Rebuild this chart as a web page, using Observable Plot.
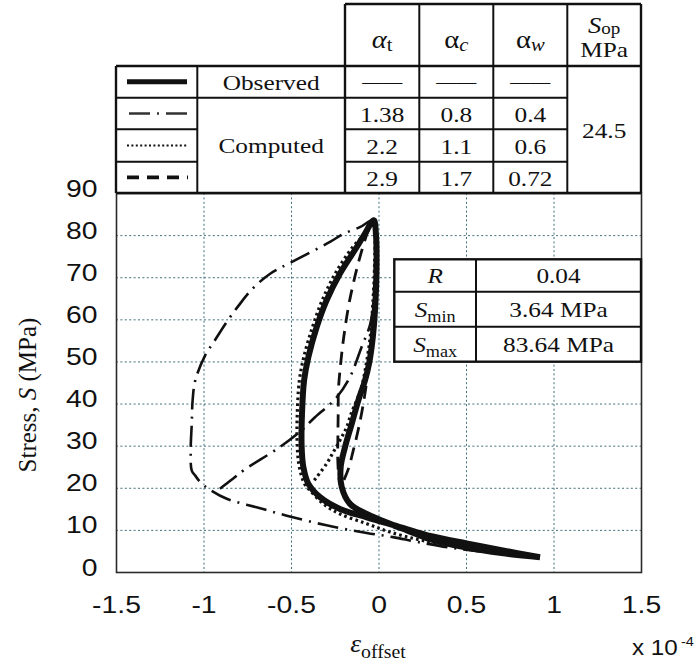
<!DOCTYPE html>
<html>
<head>
<meta charset="utf-8">
<script src="https://cdn.jsdelivr.net/npm/d3@7"></script>
<script src="https://cdn.jsdelivr.net/npm/@observablehq/plot@0.6"></script>
<style>
  body { margin: 0; background: #fff; }
  #chart svg { display: block; }
</style>
</head>
<body>
<div id="chart"></div>
<script>
// Hysteresis loops: offset strain (x 10^-4) against stress S (MPa).
// Each loop runs from its loading corner up to S_max, back down the
// unloading branch and out along the tail to S_min.

const observedStrain = [0.92, 0.7, 0.5, 0.3, 0.16, 0.06, -0.07, -0.166, -0.213, -0.219, -0.194, -0.156, -0.118, -0.08, -0.055, -0.035, -0.023, -0.014, -0.017, -0.03,
  -0.08, -0.127, -0.223, -0.3, -0.356, -0.404, -0.428, -0.44, -0.442, -0.432, -0.404, -0.337, -0.223, -0.07, 0.12, 0.3, 0.5, 0.7, 0.92];
const observedStress = [3.64, 4.6, 5.9, 7.8, 10.0, 11.6, 13.9, 16.3, 20.3, 25, 29.8, 35.3, 40.9, 45.6, 50, 56, 62.2, 72.5, 80, 83.64,
  80.5, 77.3, 71, 64.6, 58.3, 51.1, 45.6, 37.7, 29.8, 25, 21.1, 17.9, 15.1, 13.1, 10.8, 8.6, 6.9, 5.3, 3.64];

// alpha_t = 1.38 (dash-dot)
const dashDotStrain = [-0.909, -0.833, -0.776, -0.566, -0.45, -0.375, -0.242, -0.166, -0.1, -0.05, -0.028, -0.02, -0.03,
  -0.109, -0.204, -0.28, -0.5, -0.62, -0.72, -0.8, -0.87, -0.94, -0.994, -1.05, -1.065, -1.07, -1.076, -1.07, -1.05, -1.02, -0.975,
  -0.87, -0.7, -0.527, -0.3, -0.07, 0.08, 0.215, 0.406, 0.65, 0.92];
const dashDotStress = [19.9, 22.3, 24.2, 29.8, 33.5, 36.5, 41.6, 46.4, 53.5, 59, 66, 75, 83.64,
  82, 80.4, 78.5, 73.7, 71, 67.5, 63.5, 59.5, 55, 51.5, 45.6, 40.9, 35.3, 29, 24.2, 23, 21.4, 19.9,
  17.5, 15.5, 13.5, 11.2, 9.4, 8.4, 7.3, 5.9, 4.7, 3.64];

// alpha_t = 2.2 (dotted)
const dottedStrain = [-0.37, -0.3, -0.261, -0.223, -0.185, -0.156, -0.127, -0.1, -0.075, -0.05, -0.035, -0.025, -0.03,
  -0.09, -0.15, -0.25, -0.325, -0.38, -0.43, -0.455, -0.467, -0.467, -0.455, -0.425, -0.394, -0.318, -0.223, -0.07, 0.063, 0.25, 0.5, 0.7, 0.92];
const dottedStress = [21.9, 25.8, 28.6, 31.4, 34.5, 38.1, 40.9, 44, 49, 56, 64, 74, 83.64,
  80, 77.3, 71, 64.6, 58.3, 51.1, 45.6, 37.7, 29.8, 25, 21, 19.5, 16.3, 13.9, 11.6, 9.6, 7.6, 5.9, 4.7, 3.64];

// alpha_t = 2.9 (dashed)
const dashedStrain = [-0.2, -0.175, -0.147, -0.118, -0.09, -0.065, -0.045, -0.03, -0.022, -0.03,
  -0.061, -0.109, -0.147, -0.175, -0.204, -0.223, -0.232, -0.233, -0.235, -0.235, -0.225, -0.2, -0.13, -0.04, 0.08, 0.3, 0.5, 0.7, 0.92];
const dashedStress = [22, 24.6, 29, 34, 40, 47, 55, 65, 75, 83.64,
  81.2, 74.9, 68.6, 63, 55.1, 48, 43.2, 38.5, 32, 26, 21.5, 18.5, 15.5, 13.2, 11.3, 8.4, 6.5, 5, 3.64];

// Axis ticks and grid positions
const xTicks = [-1.5, -1, -0.5, 0, 0.5, 1, 1.5];
const yTicks = [0, 10, 20, 30, 40, 50, 60, 70, 80, 90];
const xGrid = [-1, -0.5, 0, 0.5, 1];
const yGrid = [10, 20, 30, 40, 50, 60, 70, 80];

// Parameter table
const rowNames = ["Observed", "Computed"];
const alphaT = ["1.38", "2.2", "2.9"];
const alphaC = ["0.8", "1.1", "1.7"];
const alphaW = ["0.4", "0.6", "0.72"];
const openingStress = "24.5";

// Loading table
const loadRatio = "0.04";
const minStress = "3.64 MPa";
const maxStress = "83.64 MPa";

// Line styles for each loop
const INK = "#111";
const styles = {
  observed: { strokeWidth: 6, dash: null },
  dashDot: { strokeWidth: 2.6, dash: "21,7,2,7" },
  dotted: { strokeWidth: 3.2, dash: "2.6,3.2" },
  dashed: { strokeWidth: 2.8, dash: "13,8" }
};

const pts = (xs, ys) => xs.map((x, i) => ({ x, y: ys[i] }));

function loop(xs, ys, st) {
  return Plot.line(pts(xs, ys), {
    x: "x", y: "y", curve: "catmull-rom",
    stroke: INK, strokeWidth: st.strokeWidth,
    strokeDasharray: st.dash ?? undefined,
    strokeLinejoin: "round", strokeLinecap: "butt"
  });
}

const W = 699, H = 666;
const M = { left: 116, right: 58, top: 193, bottom: 94 };

const plot = Plot.plot({
  width: W, height: H,
  marginLeft: M.left, marginRight: M.right, marginTop: M.top, marginBottom: M.bottom,
  style: { fontFamily: "'Liberation Sans', Arial, sans-serif", fontSize: "24px", color: INK, background: "#fff", overflow: "visible" },
  x: { domain: [-1.5, 1.5] },
  y: { domain: [0, 90] },
  marks: [
    Plot.gridX(xGrid, { stroke: "#3f6f7c", strokeOpacity: 1, strokeWidth: 1, strokeDasharray: "2,2.4" }),
    Plot.gridY(yGrid, { stroke: "#3f6f7c", strokeOpacity: 1, strokeWidth: 1, strokeDasharray: "2,2.4" }),
    Plot.axisX(xTicks, { tickSize: 0, tickPadding: 40, tickFormat: d => String(d), label: null, fontSize: 24 }),
    Plot.axisY(yTicks, { tickSize: 0, tickPadding: 19, tickFormat: d => String(d), label: null, fontSize: 24, dy: 3 }),
    loop(dashDotStrain, dashDotStress, styles.dashDot),
    loop(dashedStrain, dashedStress, styles.dashed),
    loop(dottedStrain, dottedStress, styles.dotted),
    loop(observedStrain, observedStress, styles.observed),
    Plot.frame({ stroke: "#2a2a2a", strokeWidth: 1.6 })
  ]
});

document.getElementById("chart").appendChild(plot);

// Widen the tick labels slightly around their anchors
plot.querySelectorAll('g[aria-label="x-axis tick label"] text, g[aria-label="y-axis tick label"] text').forEach(t => {
  const x = +t.getAttribute("x") || 0, y = +t.getAttribute("y") || 0;
  const tr = t.getAttribute("transform") || "";
  t.removeAttribute("x"); t.removeAttribute("y");
  t.setAttribute("transform", `${tr} translate(${x},${y}) scale(1.18,1)`);
});

const svg = d3.select(plot);
const serif = "'Liberation Serif', 'Times New Roman', serif";

// Text with optional italics and subscripts; parts are [string, kind]
function label(g, x, y, parts, { size = 22, anchor = "middle", sx = 1.15, family = serif, subShift = 0.22 } = {}) {
  const t = g.append("text")
    .attr("transform", `translate(${x},${y}) scale(${sx},1)`)
    .attr("text-anchor", anchor)
    .attr("font-family", family)
    .attr("font-size", size)
    .attr("fill", INK);
  let shift = 0;
  for (const [s, kind = ""] of parts) {
    const sp = t.append("tspan").text(s);
    let target = 0;
    if (kind.includes("i")) sp.attr("font-style", "italic");
    if (kind.includes("sub")) { sp.attr("font-size", size * 0.72); target = size * subShift; }
    if (kind.includes("sup")) { sp.attr("font-size", size * 0.6); target = -size * 0.4; sp.attr("dx", 3); }
    if (target !== shift) { sp.attr("dy", target - shift); shift = target; }
  }
  return t;
}

function hline(g, x1, x2, y, w = 2) {
  g.append("line").attr("x1", x1).attr("x2", x2).attr("y1", y).attr("y2", y)
    .attr("stroke", INK).attr("stroke-width", w);
}
function vline(g, x, y1, y2, w = 2) {
  g.append("line").attr("x1", x).attr("x2", x).attr("y1", y1).attr("y2", y2)
    .attr("stroke", INK).attr("stroke-width", w);
}

// ---- Parameter table above the plot ----
const tb = svg.append("g");
const cx = [116, 197.3, 345, 419.3, 493.3, 567.3, 641];
const ry = [4, 66, 97.7, 129.3, 161.7, 193];
tb.append("rect").attr("x", cx[2]).attr("y", ry[0]).attr("width", cx[6] - cx[2]).attr("height", ry[5] - ry[0]).attr("fill", "#fff");
tb.append("rect").attr("x", cx[0]).attr("y", ry[1]).attr("width", cx[2] - cx[0]).attr("height", ry[5] - ry[1]).attr("fill", "#fff");

hline(tb, cx[2], cx[6], ry[0], 2.4);
hline(tb, cx[0], cx[6], ry[1], 2.4);
hline(tb, cx[0], cx[5], ry[2]);
hline(tb, cx[0], cx[1], ry[3]); hline(tb, cx[2], cx[5], ry[3]);
hline(tb, cx[0], cx[1], ry[4]); hline(tb, cx[2], cx[5], ry[4]);
hline(tb, cx[0], cx[6], ry[5], 2.4);
vline(tb, cx[0], ry[1], ry[5], 2.4);
vline(tb, cx[1], ry[1], ry[5]);
for (let i = 2; i < 6; i++) vline(tb, cx[i], ry[0], ry[5], i === 2 ? 2.4 : 2);
vline(tb, cx[6], ry[0], ry[5], 2.4);

const colMid = i => (cx[i] + cx[i + 1]) / 2;
const rowMid = j => (ry[j] + ry[j + 1]) / 2;

// Header
label(tb, colMid(2), 48, [["α", "i"], ["t", "sub"]], { size: 26, sx: 1.1, subShift: 0.12 });
label(tb, colMid(3), 48, [["α"], ["c", "isub"]], { size: 26, sx: 1.1, subShift: 0.12 });
label(tb, colMid(4), 48, [["α"], ["w", "isub"]], { size: 26, sx: 1.1, subShift: 0.12 });
label(tb, colMid(5), 33, [["S", "i"], ["op", "sub"]], { size: 23, subShift: 0.06 });
label(tb, colMid(5), 57, [["MPa"]], { size: 22 });

// Legend samples
const sx1 = 127, sx2 = 188;
tb.append("line").attr("x1", sx1).attr("x2", sx2 - 1).attr("y1", rowMid(1)).attr("y2", rowMid(1))
  .attr("stroke", INK).attr("stroke-width", 5);
tb.append("line").attr("x1", sx1 + 2).attr("x2", sx2).attr("y1", rowMid(2)).attr("y2", rowMid(2))
  .attr("stroke", "#333").attr("stroke-width", 2.6).attr("stroke-dasharray", styles.dashDot.dash);
tb.append("line").attr("x1", sx1).attr("x2", sx2).attr("y1", rowMid(3)).attr("y2", rowMid(3))
  .attr("stroke", INK).attr("stroke-width", 2.2).attr("stroke-dasharray", "2,2.4");
tb.append("line").attr("x1", sx1).attr("x2", sx2).attr("y1", rowMid(4)).attr("y2", rowMid(4))
  .attr("stroke", INK).attr("stroke-width", 3.6).attr("stroke-dasharray", "12,8");

// Row names
label(tb, colMid(1), rowMid(1) + 8, [[rowNames[0]]]);
label(tb, colMid(1), (ry[2] + ry[5]) / 2 + 8, [[rowNames[1]]]);

// Observed row has no parameters
for (let i = 2; i < 5; i++) label(tb, colMid(i), rowMid(1) + 7, [["——"]], { size: 20, sx: 1 });

// Computed parameters
[alphaT, alphaC, alphaW].forEach((col, i) => {
  col.forEach((v, j) => label(tb, colMid(i + 2), rowMid(j + 2) + 8.5, [[v]]));
});
label(tb, colMid(5), (ry[1] + ry[5]) / 2 + 8.5, [[openingStress]]);

// ---- Loading table inside the plot ----
const lt = svg.append("g");
const lx = [394.3, 476, 641];
const ly = [259.3, 291.7, 326.7, 361.7];
lt.append("rect").attr("x", lx[0]).attr("y", ly[0]).attr("width", lx[2] - lx[0]).attr("height", ly[3] - ly[0])
  .attr("fill", "#fff").attr("stroke", INK).attr("stroke-width", 2.4);
hline(lt, lx[0], lx[2], ly[1]);
hline(lt, lx[0], lx[2], ly[2]);
vline(lt, lx[1], ly[0], ly[3]);
const lMid = i => (lx[i] + lx[i + 1]) / 2;
const lRow = j => (ly[j] + ly[j + 1]) / 2 + 7.5;
label(lt, lMid(0), lRow(0), [["R", "i"]]);
label(lt, lMid(1), lRow(0), [[loadRatio]]);
label(lt, lMid(0), lRow(1), [["S", "i"], ["min", "sub"]]);
label(lt, lMid(1), lRow(1), [[minStress]]);
label(lt, lMid(0), lRow(2), [["S", "i"], ["max", "sub"]]);
label(lt, lMid(1), lRow(2), [[maxStress]]);

// ---- Axis titles ----
const at = svg.append("g");
label(at, 378, 652, [["ε", "i"], ["offset", "sub"]], { size: 25, sx: 1.1 });
label(at, 632, 655, [["x 10"], ["-4", "sup"]], { size: 22, anchor: "start", sx: 1.1, family: "'Liberation Sans', Arial, sans-serif" });
at.append("text")
  .attr("transform", `translate(36,395) rotate(-90)`)
  .attr("text-anchor", "middle")
  .attr("font-family", serif).attr("font-size", 25).attr("fill", INK)
  .call(t => {
    t.append("tspan").text("Stress, ");
    t.append("tspan").attr("font-style", "italic").text("S");
    t.append("tspan").text(" (MPa)");
  });
</script>
</body>
</html>
